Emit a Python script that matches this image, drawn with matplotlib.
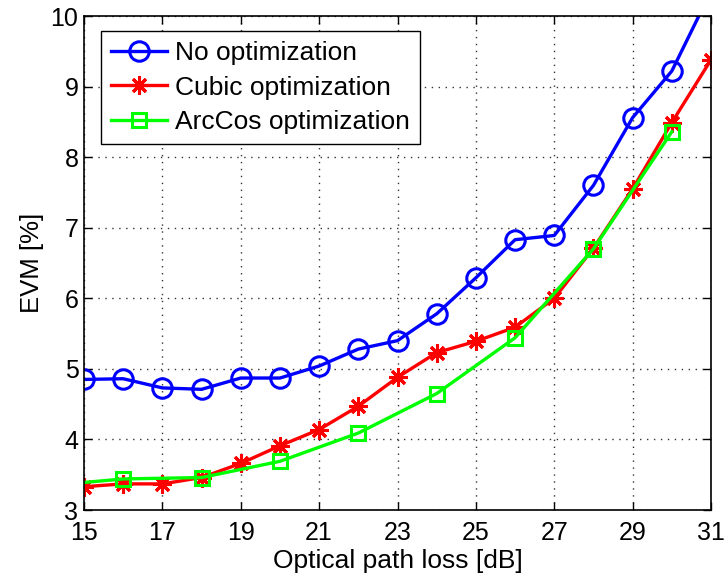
import matplotlib
matplotlib.use("Agg")
import matplotlib.pyplot as plt
import numpy as np

plt.rcParams['font.family'] = ['Liberation Sans', 'DejaVu Sans']

loss = [15, 16, 17, 18, 19, 20, 21, 22, 23, 24, 25, 26, 27, 28, 29, 30, 31]
evm_none = [4.85, 4.86, 4.73, 4.71, 4.87, 4.87, 5.04, 5.28, 5.40, 5.78, 6.29, 6.83, 6.89, 7.60, 8.56, 9.22, 10.35]
evm_cubic = [3.33, 3.37, 3.37, 3.46, 3.66, 3.91, 4.14, 4.47, 4.88, 5.23, 5.39, 5.59, 6.00, 6.71, 7.55, 8.49, 9.38]
loss_arccos = [15, 16, 18, 20, 22, 24, 26, 28, 30]
evm_arccos = [3.39, 3.44, 3.46, 3.69, 4.09, 4.65, 5.44, 6.70, 8.36]

xticks = [15, 17, 19, 21, 23, 25, 27, 29, 31]
yticks = [3, 4, 5, 6, 7, 8, 9, 10]

fig = plt.figure(figsize=(7.24, 5.78), dpi=100)
ax = fig.add_axes([84/724, 1-510/578, (711-84)/724, (510-16)/578])

ax.plot(loss, evm_none, color='#0000ff', lw=2.4, marker='o', ms=14,
        mfc='none', mec='#0000ff', mew=2.2, label='No optimization')
ax.plot(loss, evm_cubic, color='#ff0000', lw=2.4, marker=(8, 2, 0), ms=13,
        mec='#ff0000', mew=2.2, label='Cubic optimization')
ax.plot(loss_arccos, evm_arccos, color='#00ff00', lw=2.4, marker='s', ms=10,
        mfc='none', mec='#00ff00', mew=2.2, markevery=list(range(1, len(loss_arccos))),
        label='ArcCos optimization')

ax.set_xlim(15, 31)
ax.set_ylim(3, 10)
ax.set_xticks(xticks)
ax.set_yticks(yticks)
ax.tick_params(direction='in', top=True, right=True, labelsize=18, length=6, width=1)
ax.tick_params(axis='x', pad=8)
ax.tick_params(axis='y', pad=4)
ax.grid(True, linestyle=(0, (1, 4)), color='#333333', lw=1)
for s in ax.spines.values():
    s.set_linewidth(1.2)
ax.set_xlabel('Optical path loss [dB]', fontsize=19, labelpad=3)
ax.set_ylabel('EVM [%]', fontsize=18.5, labelpad=5)

leg = ax.legend(loc='upper left', bbox_to_anchor=((100.5-84)/627, (510-31)/494), fontsize=19,
                frameon=True, fancybox=False, edgecolor='black', framealpha=1,
                handlelength=2.15, borderpad=0.38, labelspacing=0.4, handletextpad=0.3,
                borderaxespad=0)
leg.get_frame().set_linewidth(1.0)

fig.savefig('out.png', dpi=100)
